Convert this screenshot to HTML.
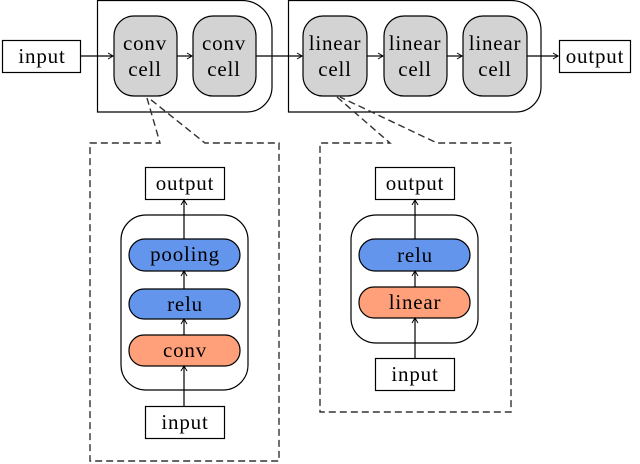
<!DOCTYPE html>
<html><head><style>body{margin:0;background:#fff}svg{display:block}</style></head><body>
<svg width="640" height="464" viewBox="0 0 640 464" xmlns="http://www.w3.org/2000/svg" font-family="Liberation Serif, serif" font-size="21" letter-spacing="0.8" text-anchor="middle">
<defs><marker id="a" markerWidth="8" markerHeight="8" refX="6" refY="4" orient="auto" markerUnits="userSpaceOnUse"><path d="M1,1 L6,4 L1,7" fill="none" stroke="#000" stroke-width="1"/></marker></defs>
<g stroke="#000" stroke-width="1.2" fill="none">
<path d="M97.5,0.5 H242 A30,30 0 0 1 272,30 V87 A25,25 0 0 1 247,112 H97.5 Z"/>
<path d="M288.5,0.5 H511 A30,30 0 0 1 541,30 V87 A25,25 0 0 1 516,112 H288.5 Z"/>
<rect x="2.5" y="40.5" width="78" height="32" fill="#fff"/>
<rect x="559.5" y="40.5" width="71" height="32" fill="#fff"/>
<g fill="#d3d3d3">
<rect x="114" y="16" width="63" height="80" rx="20"/>
<rect x="193" y="16" width="63" height="80" rx="20"/>
<rect x="303" y="16" width="64" height="80" rx="20"/>
<rect x="384" y="16" width="63" height="80" rx="20"/>
<rect x="463" y="16" width="64" height="80" rx="20"/>
</g>
<g marker-end="url(#a)">
<line x1="81" y1="56" x2="113" y2="56"/>
<line x1="177" y1="56" x2="192" y2="56"/>
<line x1="256" y1="56" x2="302" y2="56"/>
<line x1="367" y1="56" x2="383" y2="56"/>
<line x1="447" y1="56" x2="462" y2="56"/>
<line x1="527" y1="56" x2="558" y2="56"/>
</g>
<g stroke-dasharray="7,4" stroke="#333" stroke-width="1.4">
<path d="M147,98 L160,143 H90 V461 H279 V143 H205 L150,99"/>
<path d="M337,97 L390,143 H320 V412 H511 V143 H437 L340,97"/>
</g>
<rect x="121" y="215" width="127" height="175" rx="25"/>
<rect x="145.5" y="167.5" width="79" height="32"/>
<rect x="145.5" y="406.5" width="79" height="32"/>
<rect x="129" y="239" width="111" height="32" rx="16" fill="#6495ed"/>
<rect x="129" y="289" width="111" height="30" rx="15" fill="#6495ed"/>
<rect x="129" y="335" width="111" height="31" rx="15" fill="#ffa07a"/>
<g marker-end="url(#a)">
<line x1="184" y1="406" x2="184" y2="366"/>
<line x1="184" y1="335" x2="184" y2="319"/>
<line x1="184" y1="289" x2="184" y2="271"/>
<line x1="184" y1="239" x2="184" y2="200"/>
</g>
<rect x="351" y="215" width="127" height="128" rx="25"/>
<rect x="375.5" y="167.5" width="79" height="32"/>
<rect x="375.5" y="358.5" width="79" height="32"/>
<rect x="359" y="239" width="111" height="32" rx="16" fill="#6495ed"/>
<rect x="359" y="287" width="111" height="31" rx="15" fill="#ffa07a"/>
<g marker-end="url(#a)">
<line x1="415" y1="358" x2="415" y2="318"/>
<line x1="415" y1="287" x2="415" y2="271"/>
<line x1="415" y1="239" x2="415" y2="200"/>
</g>
</g>
<g fill="#000">
<text x="42" y="63">input</text>
<text x="595" y="63">output</text>
<text x="145" y="50">conv</text><text x="145" y="76">cell</text>
<text x="224" y="50">conv</text><text x="224" y="76">cell</text>
<text x="335" y="50">linear</text><text x="335" y="76">cell</text>
<text x="415" y="50">linear</text><text x="415" y="76">cell</text>
<text x="495" y="50">linear</text><text x="495" y="76">cell</text>
<text x="185" y="190">output</text>
<text x="185" y="261">pooling</text>
<text x="185" y="311">relu</text>
<text x="185" y="357">conv</text>
<text x="185" y="429">input</text>
<text x="415" y="190">output</text>
<text x="415" y="262">relu</text>
<text x="415" y="309">linear</text>
<text x="415" y="381">input</text>
</g>
</svg>
</body></html>
